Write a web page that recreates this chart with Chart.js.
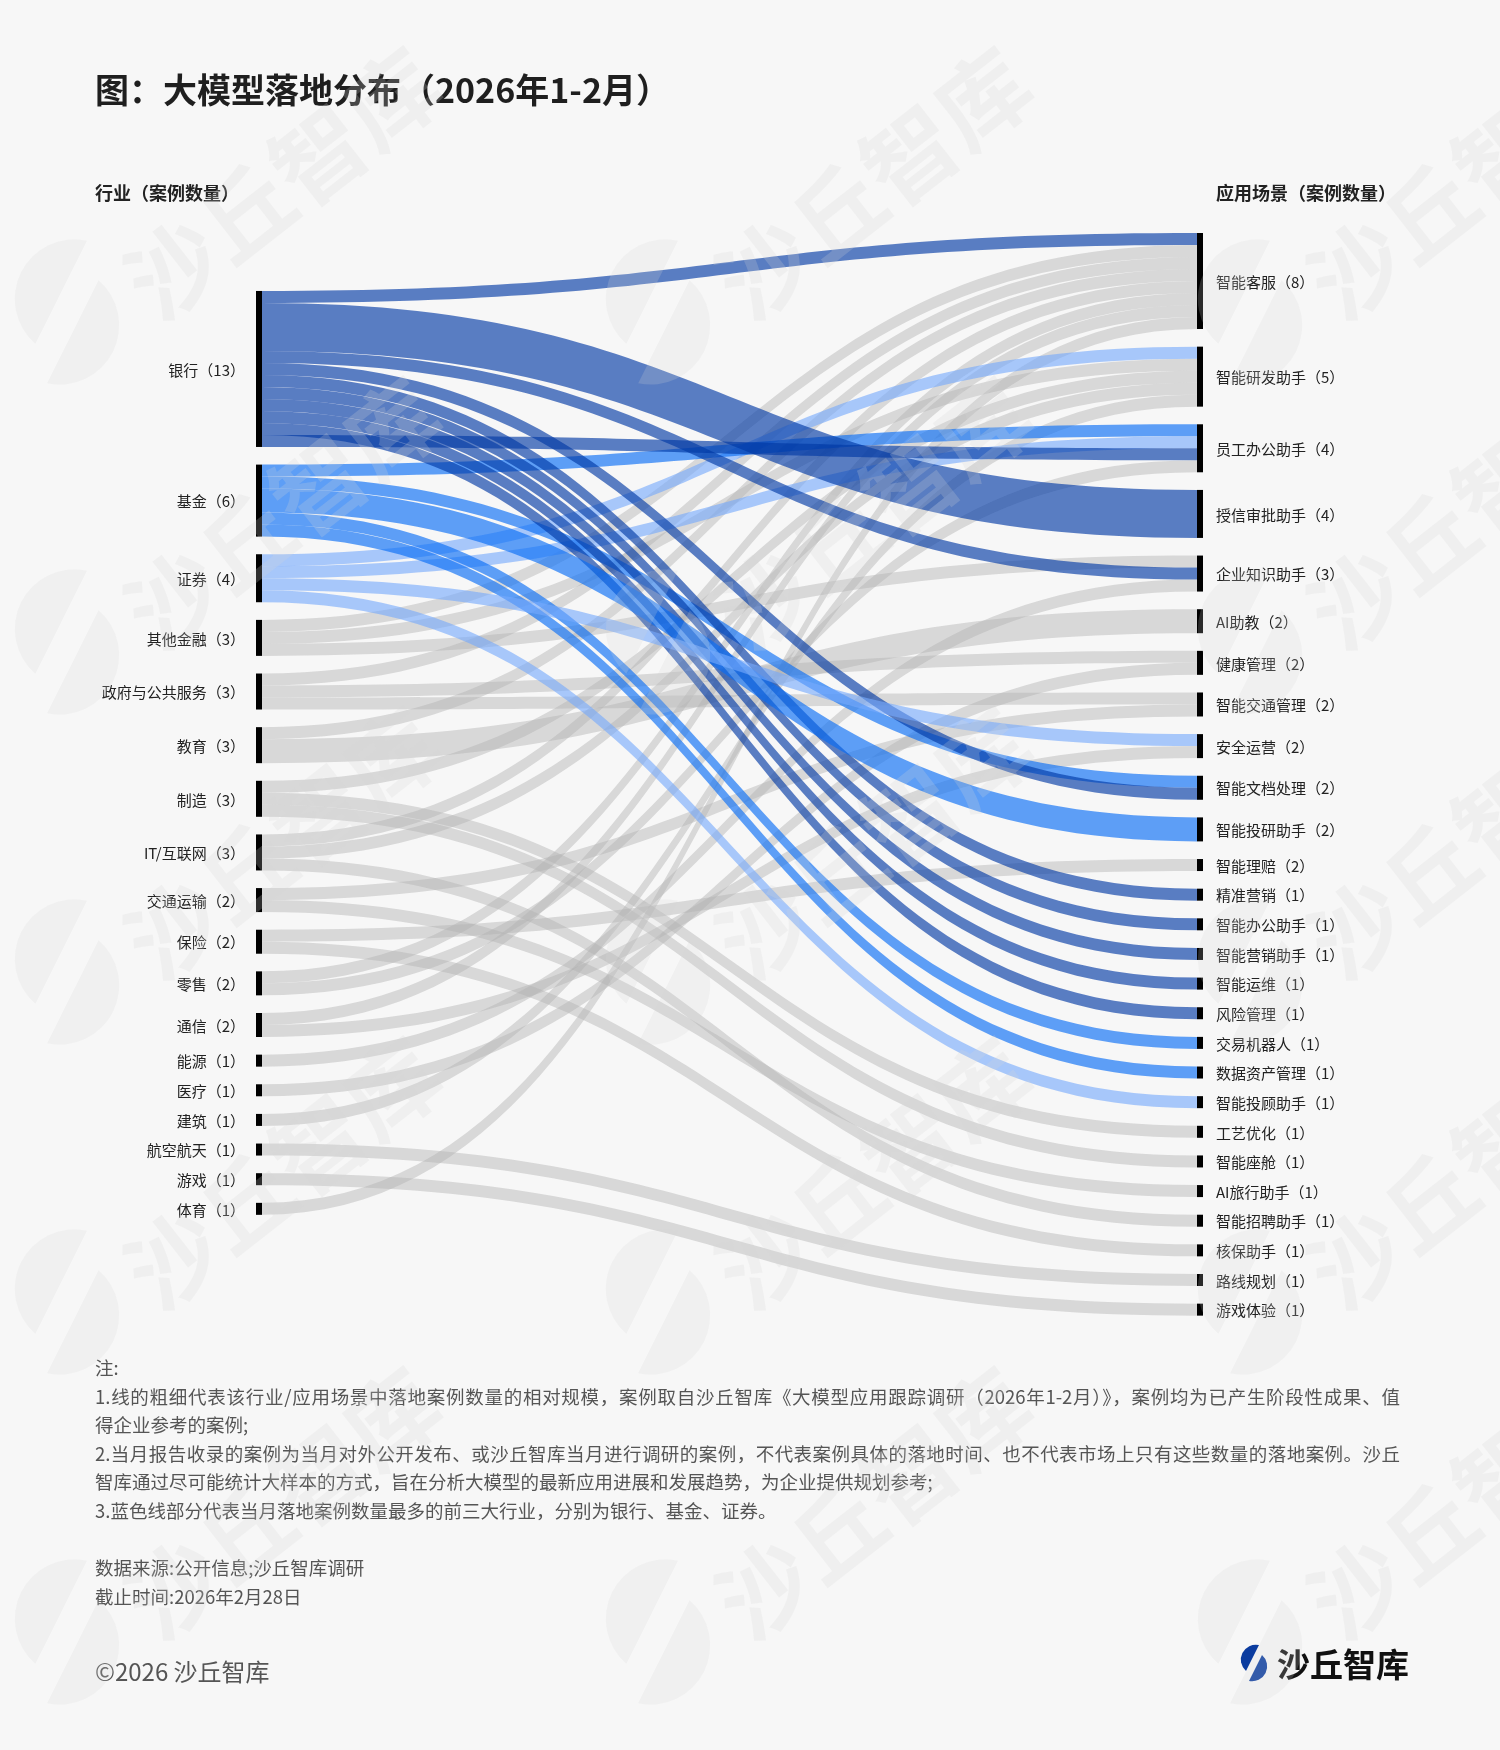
<!DOCTYPE html>
<html lang="zh-CN">
<head>
<meta charset="utf-8">
<title>大模型落地分布（2026年1-2月）</title>
<script src="https://cdn.jsdelivr.net/npm/chart.js@4.4.1/dist/chart.umd.min.js"></script>
<style>
  html, body { margin: 0; padding: 0; }
  body {
    width: 1500px; height: 1750px; position: relative; overflow: hidden;
    background: #f7f7f7; color: #222;
    font-family: "Noto Sans CJK SC", "Noto Sans", sans-serif;
  }
  #chart { position: absolute; left: 0; top: 0; z-index: 0; }
  .txt { position: absolute; z-index: 1; white-space: nowrap; }
  .title { left: 95px; top: 69px; font-size: 34px; line-height: 40px; font-weight: 700; color: #1f1f1f; }
  .head { top: 180px; font-size: 18px; line-height: 24px; font-weight: 700; color: #222; }
  .notes { left: 95px; top: 1353px; width: 1305px; font-size: 18.5px; line-height: 28.5px; color: #555; }
  .notes div { white-space: nowrap; }
  .notes .full { text-align: justify; text-align-last: justify; }
  .src { left: 95px; top: 1553px; font-size: 18.5px; line-height: 28.5px; color: #555; }
  .copy { left: 95px; top: 1655px; font-size: 24px; line-height: 32px; color: #555; }
  .logo { left: 1236px; top: 1639px; }
  .logotxt { left: 1277px; top: 1644px; font-size: 33px; line-height: 38px; font-weight: 700; color: #111; }
  #wm { position: absolute; left: 0; top: 0; width: 1500px; height: 1750px; z-index: 2; pointer-events: none; }
  .wmtext {
    position: absolute; font-size: 92px; font-weight: 700; white-space: nowrap;
    color: rgba(214,214,214,0.22); transform: translate(-50%, -50%) rotate(-38deg);
  }
  .wmlogo { position: absolute; transform: translate(-50%, -50%); }
</style>
</head>
<body>
<canvas id="chart" width="1500" height="1750"></canvas>

<div class="txt title">图：大模型落地分布（2026年1-2月）</div>
<div class="txt head" style="left:95px">行业（案例数量）</div>
<div class="txt head" style="left:1216px">应用场景（案例数量）</div>

<div class="txt notes">
  <div>注:</div>
  <div class="full">1.线的粗细代表该行业/应用场景中落地案例数量的相对规模，案例取自沙丘智库《大模型应用跟踪调研（2026年1-2月）》，案例均为已产生阶段性成果、值</div>
  <div>得企业参考的案例;</div>
  <div class="full">2.当月报告收录的案例为当月对外公开发布、或沙丘智库当月进行调研的案例，不代表案例具体的落地时间、也不代表市场上只有这些数量的落地案例。沙丘</div>
  <div>智库通过尽可能统计大样本的方式，旨在分析大模型的最新应用进展和发展趋势，为企业提供规划参考;</div>
  <div>3.蓝色线部分代表当月落地案例数量最多的前三大行业，分别为银行、基金、证券。</div>
</div>
<div class="txt src">数据来源:公开信息;沙丘智库调研<br>截止时间:2026年2月28日</div>
<div class="txt copy">©2026 沙丘智库</div>

<svg class="txt logo" width="36" height="48" viewBox="0 0 36 48">
  <path d="M23 6 A15 15 0 0 0 10 32 Z" fill="#0b3c9f"/>
  <path d="M26 16 A15 15 0 0 1 13 42 Z" fill="#0b3c9f"/>
</svg>
<div class="txt logotxt">沙丘智库</div>

<div id="wm"></div>

<script>
// ── DATA ──────────────────────────────────────────────────────
const industries = ['银行', '基金', '证券', '其他金融', '政府与公共服务', '教育', '制造', 'IT/互联网',
  '交通运输', '保险', '零售', '通信', '能源', '医疗', '建筑', '航空航天', '游戏', '体育'];
const industryCounts = [13, 6, 4, 3, 3, 3, 3, 3, 2, 2, 2, 2, 1, 1, 1, 1, 1, 1];

const scenes = ['智能客服', '智能研发助手', '员工办公助手', '授信审批助手', '企业知识助手', 'AI助教',
  '健康管理', '智能交通管理', '安全运营', '智能文档处理', '智能投研助手', '智能理赔', '精准营销',
  '智能办公助手', '智能营销助手', '智能运维', '风险管理', '交易机器人', '数据资产管理', '智能投顾助手',
  '工艺优化', '智能座舱', 'AI旅行助手', '智能招聘助手', '核保助手', '路线规划', '游戏体验'];
const sceneCounts = [8, 5, 4, 4, 3, 2, 2, 2, 2, 2, 2, 2, 1, 1, 1, 1, 1, 1, 1, 1, 1, 1, 1, 1, 1, 1, 1];

// links, in stacking order
const linkFrom = [
  '银行', '证券', '其他金融', '其他金融', '其他金融', '基金', '证券', '基金',
  '银行', '银行', '银行', '银行', '银行', '银行', '银行', '银行', '银行',
  '基金', '基金', '基金', '证券', '证券',
  '政府与公共服务', '教育', 'IT/互联网', '零售', '通信', '体育',
  '制造', 'IT/互联网', '建筑', '零售', '能源', '教育',
  '政府与公共服务', '医疗', '政府与公共服务', '交通运输', '通信', '保险',
  '制造', '制造', '交通运输', 'IT/互联网', '保险', '航空航天', '游戏'];
const linkTo = [
  '智能客服', '智能研发助手', '智能客服', '智能研发助手', '企业知识助手', '员工办公助手', '员工办公助手', '智能文档处理',
  '授信审批助手', '企业知识助手', '智能文档处理', '精准营销', '智能办公助手', '智能营销助手', '智能运维', '风险管理', '员工办公助手',
  '智能投研助手', '交易机器人', '数据资产管理', '安全运营', '智能投顾助手',
  '智能客服', '智能客服', '智能客服', '智能客服', '智能客服', '智能客服',
  '智能研发助手', '智能研发助手', '智能研发助手', '员工办公助手', '企业知识助手', 'AI助教',
  '健康管理', '健康管理', '智能交通管理', '智能交通管理', '安全运营', '智能理赔',
  '工艺优化', '智能座舱', 'AI旅行助手', '智能招聘助手', '核保助手', '路线规划', '游戏体验'];
const linkValue = [
  1, 1, 1, 1, 1, 1, 1, 1,
  4, 1, 1, 1, 1, 1, 1, 1, 1,
  2, 1, 1, 1, 1,
  1, 1, 1, 1, 1, 1,
  1, 1, 1, 1, 1, 2,
  1, 1, 1, 1, 1, 1,
  1, 1, 1, 1, 1, 1, 1];

// ── STYLE ─────────────────────────────────────────────────────
const UNIT_PX = 12;        // pixels per case
const Y_MAX = 100;
const NODE_W = 6;
const NODE_GAP = 1.47;     // in cases
const LEFT_OFFSET = 4.83;  // left column starts lower than the right one
const FLOW_COLORS = {
  '银行': 'rgba(0,56,165,0.64)',
  '基金': 'rgba(6,108,246,0.64)',
  '证券': 'rgba(118,170,252,0.62)',
};
const FLOW_GREY = 'rgba(178,178,178,0.45)';
const LABEL_FONT = '15px "Noto Sans CJK SC", "Noto Sans", sans-serif';

// ── SANKEY PLUGIN ─────────────────────────────────────────────
const sankeyPlugin = {
  id: 'sankey',
  afterDatasetsDraw(chart) {
    const { ctx, scales: { x, y } } = chart;
    const src = linkFrom.map(n => industries.indexOf(n));
    const dst = linkTo.map(n => scenes.indexOf(n));

    // node sizes come from the links
    const outSum = industries.map(() => 0);
    const inSum = scenes.map(() => 0);
    linkValue.forEach((v, i) => { outSum[src[i]] += v; inSum[dst[i]] += v; });

    const leftTop = [], rightTop = [];
    let acc = LEFT_OFFSET;
    outSum.forEach((v, i) => { leftTop[i] = acc; acc += v + NODE_GAP; });
    acc = 0;
    inSum.forEach((v, j) => { rightTop[j] = acc; acc += v + NODE_GAP; });

    // stack links on both ends in list order
    const outOff = leftTop.slice(), inOff = rightTop.slice();
    const bands = linkValue.map((v, i) => {
      const b = { s: src[i], sy: outOff[src[i]], ty: inOff[dst[i]], v };
      outOff[src[i]] += v;
      inOff[dst[i]] += v;
      return b;
    });

    const xl = x.getPixelForValue(0), xr = x.getPixelForValue(1);
    const x0 = xl + NODE_W, x1 = xr - NODE_W, xm = (x0 + x1) / 2;

    const drawBand = b => {
      const s0 = y.getPixelForValue(b.sy), s1 = y.getPixelForValue(b.sy + b.v);
      const t0 = y.getPixelForValue(b.ty), t1 = y.getPixelForValue(b.ty + b.v);
      ctx.beginPath();
      ctx.moveTo(x0, s0);
      ctx.bezierCurveTo(xm, s0, xm, t0, x1, t0);
      ctx.lineTo(x1, t1);
      ctx.bezierCurveTo(xm, t1, xm, s1, x0, s1);
      ctx.closePath();
      ctx.fill();
    };

    ctx.save();
    // grey first, highlighted industries on top
    ctx.fillStyle = FLOW_GREY;
    bands.filter(b => !FLOW_COLORS[industries[b.s]]).forEach(drawBand);
    bands.filter(b => FLOW_COLORS[industries[b.s]]).forEach(b => {
      ctx.fillStyle = FLOW_COLORS[industries[b.s]];
      drawBand(b);
    });

    // nodes
    ctx.fillStyle = '#000';
    outSum.forEach((v, i) => {
      const p0 = y.getPixelForValue(leftTop[i]), p1 = y.getPixelForValue(leftTop[i] + v);
      ctx.fillRect(xl, p0, NODE_W, p1 - p0);
    });
    inSum.forEach((v, j) => {
      const p0 = y.getPixelForValue(rightTop[j]), p1 = y.getPixelForValue(rightTop[j] + v);
      ctx.fillRect(x1, p0, NODE_W, p1 - p0);
    });

    // labels
    ctx.font = LABEL_FONT;
    ctx.fillStyle = '#222';
    ctx.textBaseline = 'middle';
    ctx.textAlign = 'right';
    industries.forEach((n, i) => {
      const c = y.getPixelForValue(leftTop[i] + outSum[i] / 2);
      ctx.fillText(n + '（' + industryCounts[i] + '）', xl - 11, c + 1);
    });
    ctx.textAlign = 'left';
    scenes.forEach((n, j) => {
      const c = y.getPixelForValue(rightTop[j] + inSum[j] / 2);
      ctx.fillText(n + '（' + sceneCounts[j] + '）', xr + 13, c + 1);
    });
    ctx.restore();
  },
};

new Chart(document.getElementById('chart'), {
  type: 'scatter',
  data: { datasets: [{ data: [] }] },
  options: {
    responsive: false,
    animation: false,
    devicePixelRatio: 1,
    layout: { padding: { left: 256, right: 297, top: 233, bottom: 1750 - 233 - Y_MAX * UNIT_PX } },
    plugins: { legend: { display: false }, tooltip: { enabled: false } },
    scales: {
      x: { type: 'linear', min: 0, max: 1, display: false },
      y: { type: 'linear', min: 0, max: Y_MAX, reverse: true, display: false },
    },
  },
  plugins: [sankeyPlugin],
});

// ── WATERMARK ─────────────────────────────────────────────────
(function () {
  const wm = document.getElementById('wm');
  [67, 658, 1250].forEach(lx => {
    for (let k = 0; k < 5; k++) {
      const ly = 312 + k * 330;
      const logo = document.createElementNS('http://www.w3.org/2000/svg', 'svg');
      logo.setAttribute('class', 'wmlogo');
      logo.setAttribute('width', '150');
      logo.setAttribute('height', '190');
      logo.setAttribute('viewBox', '0 0 36 48');
      logo.style.left = lx + 'px';
      logo.style.top = ly + 'px';
      logo.innerHTML = '<path d="M23 6 A15 15 0 0 0 10 32 Z" fill="rgba(214,214,214,0.2)"/>' +
        '<path d="M26 16 A15 15 0 0 1 13 42 Z" fill="rgba(214,214,214,0.2)"/>';
      wm.appendChild(logo);
      const t = document.createElement('div');
      t.className = 'wmtext';
      t.textContent = '沙丘智库';
      t.style.left = (lx + 212) + 'px';
      t.style.top = (ly - 133) + 'px';
      wm.appendChild(t);
    }
  });
})();
</script>
</body>
</html>
